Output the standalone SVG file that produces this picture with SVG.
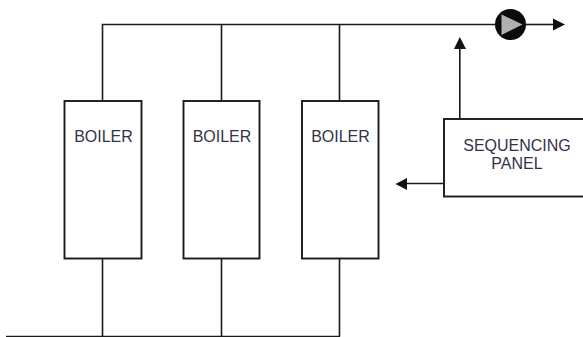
<svg xmlns="http://www.w3.org/2000/svg" width="583" height="337" viewBox="0 0 583 337">
<style>
.l{fill:none;stroke:#1a1a1a;stroke-width:1.6}
.b{fill:#fff;stroke:#1a1a1a;stroke-width:1.9}
.a{fill:#111;stroke:none}
text{font-family:"Liberation Sans",Arial,sans-serif;font-size:16px;fill:#333348;text-anchor:middle}
</style>
<rect width="583" height="337" fill="#fff"/>
<g id="connectors">
<path class="l" d="M102.500 101V24.500H497M221.500 24.500V101M339.500 24.500V101"/>
<path class="l" d="M102.500 258V336.500M221.500 258V336.500M339.500 258V336.500M6 336.500H340"/>
<path class="l" d="M525 24.500H556"/>
<polygon class="a" points="553,18.500 565,24.500 553,30.500"/>
<path class="l" d="M459.800 48V119"/>
<polygon class="a" points="459.800,37 454,49 466,49"/>
<path class="l" d="M443 183.500H405"/>
<polygon class="a" points="395.500,184 407,178 407,190"/>
</g>
<g id="pump">
<circle cx="510.500" cy="24.500" r="15.500" fill="#0a0a0a"/>
<polygon points="501.500,14.500 501.500,35 522.500,24.500" fill="#b0b0b0"/>
</g>
<g id="boiler-1"><rect class="b" x="64.500" y="101" width="77" height="157.500"/><text x="103.500" y="141.500">BOILER</text></g>
<g id="boiler-2"><rect class="b" x="183.500" y="101" width="76" height="157.500"/><text x="222" y="141.500">BOILER</text></g>
<g id="boiler-3"><rect class="b" x="302" y="101" width="76.500" height="157.500"/><text x="340.500" y="141.500">BOILER</text></g>
<g id="sequencing-panel"><rect class="b" x="444" y="119" width="145" height="77.500"/><text x="517" y="151">SEQUENCING</text><text x="517" y="169">PANEL</text></g>
</svg>
